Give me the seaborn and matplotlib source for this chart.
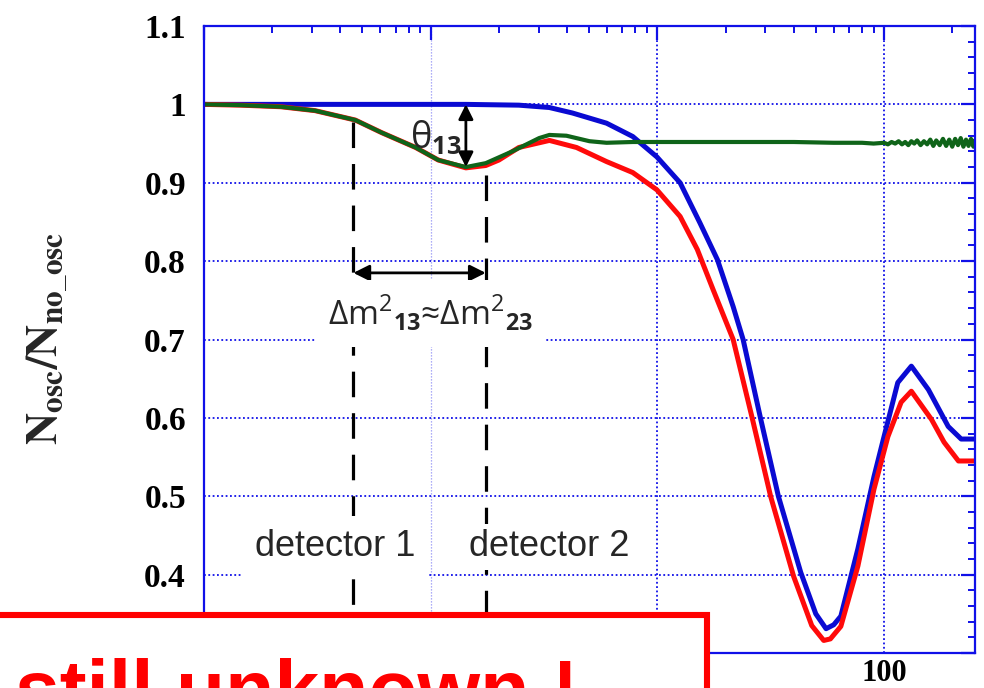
import numpy as np
import pandas as pd
import matplotlib
matplotlib.use("Agg")
import matplotlib.pyplot as plt
import matplotlib.ticker as mticker
from matplotlib.patches import Rectangle
from matplotlib.font_manager import FontProperties
import seaborn as sns

# ---------------- data ----------------
blue_x = [0.1, 0.5, 1.43, 2.45, 3.34, 4.22, 5.97, 7.79, 9.95, 12.6, 15.4, 18.4,
          21.6, 23.9, 28.5, 34.2, 42.9, 50.0, 55.5, 60.0, 64.5, 76.7, 90.3, 100, 115,
          132, 157, 192, 219, 252]
blue_y = [1.0, 1.0, 1.0, 0.999, 0.996, 0.989, 0.976, 0.959, 0.933, 0.90, 0.849, 0.802,
          0.742, 0.70, 0.60, 0.50, 0.403, 0.350, 0.331, 0.336, 0.347, 0.433, 0.525, 0.576, 0.645,
          0.666, 0.636, 0.589, 0.573, 0.573]

red_x = [0.1, 0.145, 0.218, 0.309, 0.465, 0.607, 0.858, 1.08, 1.43, 1.75, 2.0, 2.45, 3.34,
         4.4, 5.97, 7.79, 9.95, 12.6, 15.0, 17.6, 21.6, 26.2, 31.6, 39.9, 48.0, 54.2, 58.0,
         64.5, 76.7, 90.3, 104, 119, 132, 162, 184, 213, 252]
red_y = [1.0, 0.999, 0.997, 0.992, 0.98, 0.964, 0.945, 0.929, 0.919, 0.922, 0.929, 0.945, 0.954,
         0.945, 0.927, 0.913, 0.891, 0.857, 0.815, 0.764, 0.70, 0.60, 0.50, 0.398, 0.335, 0.316, 0.318,
         0.334, 0.411, 0.509, 0.576, 0.62, 0.634, 0.598, 0.569, 0.545, 0.545]

green_x = [0.1, 0.145, 0.218, 0.309, 0.465, 0.607, 0.858, 1.08, 1.43, 1.75, 2.29, 3.01, 3.34,
           3.97, 5.02, 5.97, 7.79, 10, 20, 40, 60,
           80, 90, 100, 104, 108, 112, 116, 120, 124, 128, 132, 136, 140, 145, 150, 155, 160,
           165, 170, 176, 182, 188, 194, 200, 206, 212, 218, 224, 230, 236, 242, 248, 252]
green_y = [1.0, 0.999, 0.997, 0.992, 0.98, 0.964, 0.945, 0.929, 0.92, 0.925, 0.94, 0.957, 0.961,
           0.96, 0.953, 0.951, 0.952, 0.952, 0.952, 0.952, 0.951,
           0.951, 0.950, 0.951, 0.949, 0.952, 0.950, 0.953, 0.949, 0.952, 0.948, 0.953, 0.950,
           0.954, 0.948, 0.953, 0.949, 0.955, 0.947, 0.954, 0.948, 0.956, 0.947, 0.955, 0.946,
           0.956, 0.948, 0.957, 0.946, 0.955, 0.947, 0.956, 0.946, 0.954]

detector_x = [0.456, 1.75]
detector_top = [0.978, 0.91]
detector_labels = ["detector 1", "detector 2"]
y_ticks = [0.3, 0.4, 0.5, 0.6, 0.7, 0.8, 0.9, 1.0, 1.1]
x_ticks = [0.1, 1, 10, 100]
# tick labels that stay visible (the others lie under the red box)
x_tick_labels = ["", "", "", "100"]
y_tick_labels = ["", "0.4", "0.5", "0.6", "0.7", "0.8", "0.9", "1", "1.1"]

# ---------------- style ----------------
sns.set_style("white")
plt.rcParams["mathtext.fontset"] = "custom"
plt.rcParams["mathtext.rm"] = "Open Sans"
plt.rcParams["mathtext.bf"] = "Open Sans:bold"

AXBLUE = "#1010e8"
C_BLUE = "#0a0ad2"
C_RED = "#ff0a0a"
C_GREEN = "#0f6419"

fig = plt.figure(figsize=(9.84, 6.88), dpi=100)
ax = fig.add_axes([204 / 984, 1 - 653 / 688, 771 / 984, 627 / 688])

frames = []
for name, xs, ys in [("blue", blue_x, blue_y), ("red", red_x, red_y), ("green", green_x, green_y)]:
    frames.append(pd.DataFrame({"x": xs, "y": ys, "series": name}))
df = pd.concat(frames, ignore_index=True)

for name, col, lw in [("blue", C_BLUE, 3.6), ("red", C_RED, 3.6), ("green", C_GREEN, 3.0)]:
    sns.lineplot(data=df[df.series == name], x="x", y="y", color=col, lw=lw,
                 ax=ax, legend=False, zorder=2, sort=True, estimator=None)

ax.set_xscale("log")
ax.set_xlim(0.1, 252)
ax.set_ylim(0.3, 1.1)
ax.set_xlabel("")
ax.set_ylabel("")

# ticks
ax.set_yticks(y_ticks)
ax.set_yticklabels(y_tick_labels)
ax.yaxis.set_minor_locator(mticker.MultipleLocator(0.02))
ax.set_xticks(x_ticks)
ax.set_xticklabels(x_tick_labels)
ax.xaxis.set_minor_locator(mticker.LogLocator(base=10, subs=np.arange(2, 10)))
ax.xaxis.set_minor_formatter(mticker.NullFormatter())
ax.tick_params(which="both", direction="in", top=True, right=True, color=AXBLUE)
ax.tick_params(which="major", length=10, width=1.6)
ax.tick_params(which="minor", length=5, width=1.4)
ax.tick_params(axis="y", which="major", pad=13)
ax.tick_params(axis="x", which="major", pad=4)
for lab in ax.get_yticklabels():
    lab.set_fontfamily("Liberation Serif")
    lab.set_fontweight("bold")
    lab.set_fontsize(24)
    lab.set_color("black")
for lab in ax.get_xticklabels():
    lab.set_fontfamily("Liberation Serif")
    lab.set_fontweight("bold")
    lab.set_fontsize(22)
    lab.set_color("black")
for sp in ax.spines.values():
    sp.set_color(AXBLUE)
    sp.set_linewidth(1.6)

ax.set_axisbelow(True)
ax.grid(True, which="major", color=AXBLUE, linestyle=(0, (1, 1.4)), lw=1.3)
for gl, v in zip(ax.get_xgridlines(), x_ticks):
    if v == 1:
        gl.set_alpha(0.45)
        gl.set_linewidth(0.9)

# detector dashed lines
for xd, yt in zip(detector_x, detector_top):
    ax.plot([xd, xd], [yt, 0.3], color="black", lw=2.3, linestyle=(0, (8, 5)), zorder=3)

# delta m arrow
y_arrow = 0.785
ax.annotate("", xy=(detector_x[1], y_arrow), xytext=(detector_x[0], y_arrow),
            arrowprops=dict(arrowstyle="<|-|>", color="black", lw=2.0, mutation_scale=24,
                            shrinkA=0, shrinkB=0), zorder=4)

# theta13 arrow from blue level to green minimum
gi = int(np.argmin(green_y))
ax.annotate("", xy=(green_x[gi], green_y[gi]), xytext=(green_x[gi], blue_y[2]),
            arrowprops=dict(arrowstyle="<|-|>", color="black", lw=2.0, mutation_scale=22,
                            shrinkA=0, shrinkB=0), zorder=4)

ax.text(0.81, 0.944, "θ$_{\\mathbf{13}}$", fontsize=26, family="Open Sans",
        va="baseline", ha="left", zorder=5)

ax.text(1.0, 0.718, "Δm$^{2}$$_{\\mathbf{13}}$≈Δm$^{2}$$_{\\mathbf{23}}$", fontsize=24,
        family="Open Sans", ha="center", va="baseline", zorder=5,
        bbox=dict(boxstyle="square,pad=0.4", fc="white", ec="none"))

ax.text(0.168, 0.4236, detector_labels[0], fontsize=26, family="Liberation Sans",
        ha="left", va="baseline", zorder=5,
        bbox=dict(boxstyle="square,pad=0.35", fc="white", ec="none"))
ax.text(1.474, 0.4236, detector_labels[1], fontsize=26, family="Liberation Sans",
        ha="left", va="baseline", zorder=5,
        bbox=dict(boxstyle="square,pad=0.15", fc="white", ec="none"))

# y label
fp = FontProperties(family="Liberation Serif", weight="bold", size=32, math_fontfamily="stix")
fig.text(47 / 984, 1 - 338 / 688, r"$\mathbf{N_{osc}/N_{no\_osc}}$", rotation=90,
         ha="center", va="center", fontproperties=fp)

# red overlay box
rect = Rectangle((-0.03, -0.2), 707 / 984 + 0.03, 0.2 + (1 - 615 / 688),
                 transform=fig.transFigure, fc="white", ec="#ff0000", lw=4.4,
                 zorder=10, clip_on=False)
fig.patches.append(rect)
fig.text(15 / 984, -29 / 688, "still unknown !", color="#ff0000", fontsize=58,
         fontweight="bold", family="Liberation Sans", va="baseline", ha="left", zorder=11)

fig.savefig("out.png", dpi=100)
